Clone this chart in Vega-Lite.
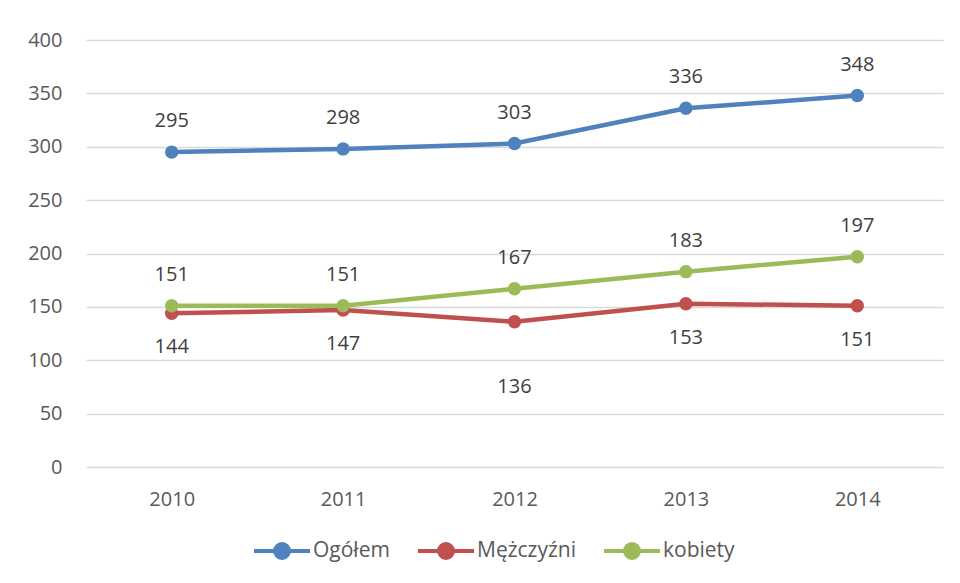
{
  "$schema": "https://vega.github.io/schema/vega-lite/v6.json",
  "width": 857,
  "height": 427,
  "autosize": {"type": "none"},
  "padding": {"left": 86, "top": 40, "right": 17, "bottom": 116},
  "background": "white",
  "config": {
    "view": {"stroke": null},
    "font": "Open Sans",
    "axis": {"labelFont": "Open Sans", "labelFontSize": 20, "labelColor": "#595959", "domain": false, "ticks": false},
    "legend": {"labelFont": "Open Sans", "labelFontSize": 21, "labelColor": "#595959"}
  },
  "data": {
    "values": [
      {"rok": "2010", "seria": "Ogółem", "wartosc": 295},
      {"rok": "2011", "seria": "Ogółem", "wartosc": 298},
      {"rok": "2012", "seria": "Ogółem", "wartosc": 303},
      {"rok": "2013", "seria": "Ogółem", "wartosc": 336},
      {"rok": "2014", "seria": "Ogółem", "wartosc": 348},
      {"rok": "2010", "seria": "Mężczyźni", "wartosc": 144},
      {"rok": "2011", "seria": "Mężczyźni", "wartosc": 147},
      {"rok": "2012", "seria": "Mężczyźni", "wartosc": 136},
      {"rok": "2013", "seria": "Mężczyźni", "wartosc": 153},
      {"rok": "2014", "seria": "Mężczyźni", "wartosc": 151},
      {"rok": "2010", "seria": "kobiety", "wartosc": 151},
      {"rok": "2011", "seria": "kobiety", "wartosc": 151},
      {"rok": "2012", "seria": "kobiety", "wartosc": 167},
      {"rok": "2013", "seria": "kobiety", "wartosc": 183},
      {"rok": "2014", "seria": "kobiety", "wartosc": 197}
    ]
  },
  "encoding": {
    "x": {"field": "rok", "type": "ordinal", "scale": {"type": "point", "padding": 0.5}, "axis": {"title": null, "labelAngle": 0, "labelPadding": 22, "grid": false}},
    "y": {"field": "wartosc", "type": "quantitative", "scale": {"domain": [0, 400]}, "axis": {"title": null, "values": [0, 50, 100, 150, 200, 250, 300, 350, 400], "labelPadding": 24, "gridColor": "#D9D9D9", "gridWidth": 1.5}},
    "color": {
      "field": "seria", "type": "nominal",
      "scale": {"domain": ["Ogółem", "Mężczyźni", "kobiety"], "range": ["#4F81BD", "#C0504D", "#9BBB59"]},
      "legend": {
        "title": null, "orient": "none", "direction": "horizontal", "legendX": 166, "legendY": 481,
        "symbolType": "M-1,0H1M0.25,0A0.25,0.25,0,1,1,-0.25,0A0.25,0.25,0,1,1,0.25,0Z",
        "symbolSize": 3136, "symbolStrokeWidth": 4, "labelOffset": 1, "columnPadding": 20,
        "encode": {"symbols": {"update": {"stroke": {"scale": "color", "field": "value"}, "fill": {"scale": "color", "field": "value"}, "fillOpacity": {"value": 1}}}}
      }
    }
  },
  "layer": [
    {"mark": {"type": "line", "strokeWidth": 4.5}, "encoding": {"detail": {"field": "seria"}, "order": {"field": "rok"}}},
    {"mark": {"type": "point", "filled": true, "size": 180, "opacity": 1}},
    {
      "transform": [{"filter": "datum.seria !== 'Mężczyźni'"}],
      "mark": {"type": "text", "dy": -31, "fontSize": 20, "baseline": "middle"},
      "encoding": {"text": {"field": "wartosc"}, "color": {"value": "#404040"}}
    },
    {
      "transform": [{"filter": "datum.seria === 'Mężczyźni' && datum.rok !== '2012'"}],
      "mark": {"type": "text", "dy": 34, "fontSize": 20, "baseline": "middle"},
      "encoding": {"text": {"field": "wartosc"}, "color": {"value": "#404040"}}
    },
    {
      "transform": [{"filter": "datum.seria === 'Mężczyźni' && datum.rok === '2012'"}],
      "mark": {"type": "text", "dy": 65, "fontSize": 20, "baseline": "middle"},
      "encoding": {"text": {"field": "wartosc"}, "color": {"value": "#404040"}}
    }
  ]
}
